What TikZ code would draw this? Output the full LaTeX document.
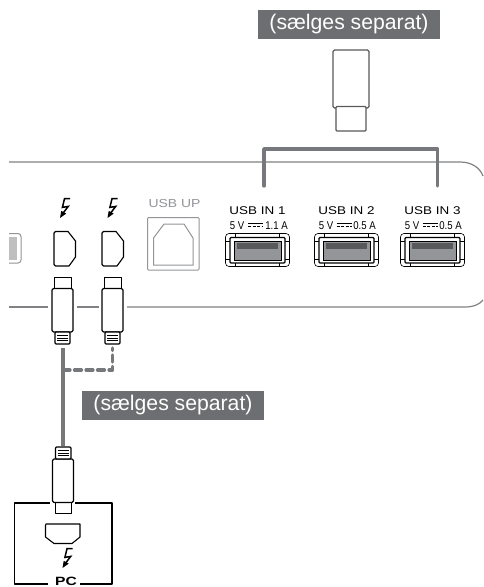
\documentclass[tikz,border=0pt]{standalone}
\usepackage{fontspec}
\setmainfont{Liberation Sans}
\newfontfamily\widesans[FakeStretch=1.2]{Liberation Sans}
\newfontfamily\narrowsans[FakeStretch=0.85]{Liberation Sans}
\newfontfamily\pcsans[FakeStretch=1.3]{Liberation Sans}
\definecolor{panelgrey}{HTML}{808285}
\definecolor{cablegrey}{HTML}{77787B}
\definecolor{tagfill}{HTML}{6D6E71}
\definecolor{portfill}{HTML}{939598}
\definecolor{portdark}{HTML}{58595B}
\definecolor{stick}{HTML}{58595B}
\definecolor{uplabel}{HTML}{939598}
\tikzset{
  x=1pt,y=-1pt,
  panel/.style={draw=panelgrey,line width=1.2pt},
  cable/.style={draw=cablegrey,line width=3.2pt},
  cabledash/.style={cable,dash pattern=on 7pt off 4.5pt},
  tag/.style={fill=tagfill,text=white,inner sep=0pt,minimum width=182pt,minimum height=29pt,font=\fontsize{21.2}{22}\selectfont},
  inklabel/.style={inner sep=0pt,font=\widesans\fontsize{11.2}{12}\selectfont},
  ratelabel/.style={inner sep=0pt,font=\narrowsans\fontsize{11.3}{12}\selectfont},
  blk/.style={draw=black,line width=1pt,line join=round},
  thin blk/.style={draw=black,line width=.6pt},
  stickline/.style={draw=stick,line width=1.1pt,rounded corners=1.5pt},
}
\newcommand{\boltmark}[2]{%
  \draw[line width=1.5pt,line join=miter] (#1+5,#2-9.3) -- (#1-.5,#2-9.3) -- (#1-2.6,#2-.6) -- (#1+3.2,#2-1.6) -- (#1-1.4,#2+4.5);
  \fill (#1-5,#2+10) -- (#1-3.8,#2+2.8) -- (#1+1.2,#2+5.6) -- cycle;
}
\newcommand{\plugdown}[2]{%
  \draw[blk,line width=1pt] (#1-8.5,#2+11) -- (#1-8.5,#2) -- (#1+8.5,#2) -- (#1+8.5,#2+11);
  \draw[blk,line width=1.1pt,rounded corners=1.5pt] (#1-10.5,#2+11.5) rectangle (#1+10.5,#2+55);
  \draw[blk,line width=1.1pt,rounded corners=1pt,fill=white] (#1-7.5,#2+55) rectangle (#1+7.5,#2+67);
  \foreach \yy in {58.5,61,63.5}{\draw[line width=.8pt] (#1-5.5,#2+\yy) -- (#1+5.5,#2+\yy);}
}
\begin{document}
\begin{tikzpicture}
\useasboundingbox (0,0) rectangle (483,587);
\fill[white] (0,0) rectangle (483,587);

% ---- panel outline
\coordinate (pL) at (9,162);
\coordinate (pBL) at (9,307);
\draw[panel] (pL) -- (460,162) .. controls (472,162) and (480,168) .. (483,176);
\draw[panel] (pBL) -- (48,307);
\draw[panel] (77,307) -- (99,307);
\draw[panel] (127,307) -- (465,307) .. controls (474,307) and (480,304) .. (483,300);

% ---- left cut-off port
\draw[draw=portfill,line width=1pt,rounded corners=3pt] (9,233.5) -- (21,233.5) -- (21,263) -- (9,263);
\fill[fill=black!25] (9,237) -- (17,237) -- (17,260) -- (9,260) -- cycle;

% ---- thunderbolt ports
\foreach \px in {54,102}{
  \draw[blk,line width=1.1pt] (\px+1.5,231.5) -- (\px+14,231.5) -- (\px+21.5,241) -- (\px+21.5,257) -- (\px+15,266) -- (\px+1.5,266) -- (\px,264.5) -- (\px,233) -- cycle;
}
\boltmark{65}{208}
\boltmark{112.5}{208}

% ---- USB UP
\node[inner sep=0pt,text=uplabel,font=\widesans\fontsize{11.6}{12}\selectfont] (usbup) at (174.5,204) {USB UP};
\draw[draw=portfill,line width=1pt,rounded corners=1pt] (147.5,217.5) rectangle (199,270);
\draw[draw=portfill,line width=1pt] (153.5,238) -- (164,224) -- (184,224) -- (193,238) -- (193,265) -- (153.5,265) -- cycle;

% ---- USB A ports
\foreach \cx/\lab/\rate/\a/\b/\c in {
  257.5/USB IN 1/1.1 A/237/255.5/276.5,
  346.5/USB IN 2/0.5 A/326/344/364.5,
  432.5/USB IN 3/0.5 A/412/430/450.5}{
  \node[inklabel] at (\cx,211) {\lab};
  \node[ratelabel] at (\a,226) {5 V};
  \node[ratelabel] at (\c,226) {\rate};
  \draw[line width=1.2pt] (\b-7.5,223.3) -- (\b+7.5,223.3);
  \draw[line width=1.2pt,dash pattern=on 3.4pt off 1.1pt] (\b-7.5,226.8) -- (\b+7.5,226.8);
  \draw[thin blk,rounded corners=3.5pt] (\cx-32,233.5) rectangle (\cx+32,266.5);
  \draw[thin blk] (\cx-22,233.5) -- (\cx-22,237.5) (\cx+22,233.5) -- (\cx+22,237.5)
                  (\cx-22,262.5) -- (\cx-22,266.5) (\cx+22,262.5) -- (\cx+22,266.5)
                  (\cx-32,241) -- (\cx-27.5,241) (\cx+32,241) -- (\cx+27.5,241)
                  (\cx-32,259) -- (\cx-27.5,259) (\cx+32,259) -- (\cx+27.5,259);
  \draw[draw=black,line width=1.3pt,fill=white,rounded corners=1pt] (\cx-27.5,237.5) rectangle (\cx+27.5,263);
  \fill[portfill] (\cx-23.5,241) rectangle (\cx+23.5,260);
  \draw[black,line width=.6pt] (\cx-23.5,241) rectangle (\cx+23.5,260);
  \fill[portdark] (\cx-20.5,243) rectangle (\cx+20.5,249);
}

% ---- USB stick and bracket
\draw[stickline,fill=white] (333,50) rectangle (369,108);
\draw[stickline,fill=white,rounded corners=1pt] (336,106.5) rectangle (366,131);
\coordinate (brA) at (264,186);
\coordinate (brB) at (437.5,186);
\draw[cable,line width=3.4pt,line cap=round,line join=round] (brA) -- (264,149) -- (437.5,149) -- (brB);

% ---- connectors
\plugdown{62.5}{277}
\plugdown{112.5}{277}
\coordinate (cabTop) at (63,348);
\coordinate (cabBot) at (63,446);
\coordinate (dashTop) at (112.5,348);
\coordinate (dashMid) at (112.5,370);
\coordinate (dashJoin) at (63,370);
\draw[cable] (cabTop) -- (cabBot);
\draw[cabledash,line join=round,line cap=round] (dashJoin) -- (dashMid) -- (dashTop);

% ---- PC box
\draw[blk,line width=1.2pt] (50,503) -- (14.5,503) -- (14.5,584) -- (48,584);
\draw[blk,line width=1.2pt] (75,503) -- (112,503) -- (112,584) -- (80,584);
\draw[blk,line width=1pt] (55,513) rectangle (71,502);
\draw[blk,line width=1.1pt,rounded corners=1.5pt,fill=white] (52.5,459) rectangle (73.5,502.5);
\draw[blk,line width=1.1pt,rounded corners=1pt,fill=white] (55.5,447) rectangle (71,459);
\foreach \yy in {450.5,453,455.5}{\draw[line width=.8pt] (57.5,\yy) -- (69,\yy);}
\draw[blk,line width=1.1pt] (46,524) -- (80,524) -- (80,537) -- (72,543.5) -- (54,543.5) -- (45.5,537) -- (45.5,525) -- cycle;
\boltmark{67.5}{558}
\node[anchor=base,inner sep=0pt,font=\pcsans\bfseries\fontsize{12}{12}\selectfont] (pc) at (66,585.2) {PC};

% ---- labels
\node[tag] (tagtop) at (349,24.5) {(sælges separat)};
\node[tag] (tagmid) at (173,405.5) {(sælges separat)};
\end{tikzpicture}
\end{document}
